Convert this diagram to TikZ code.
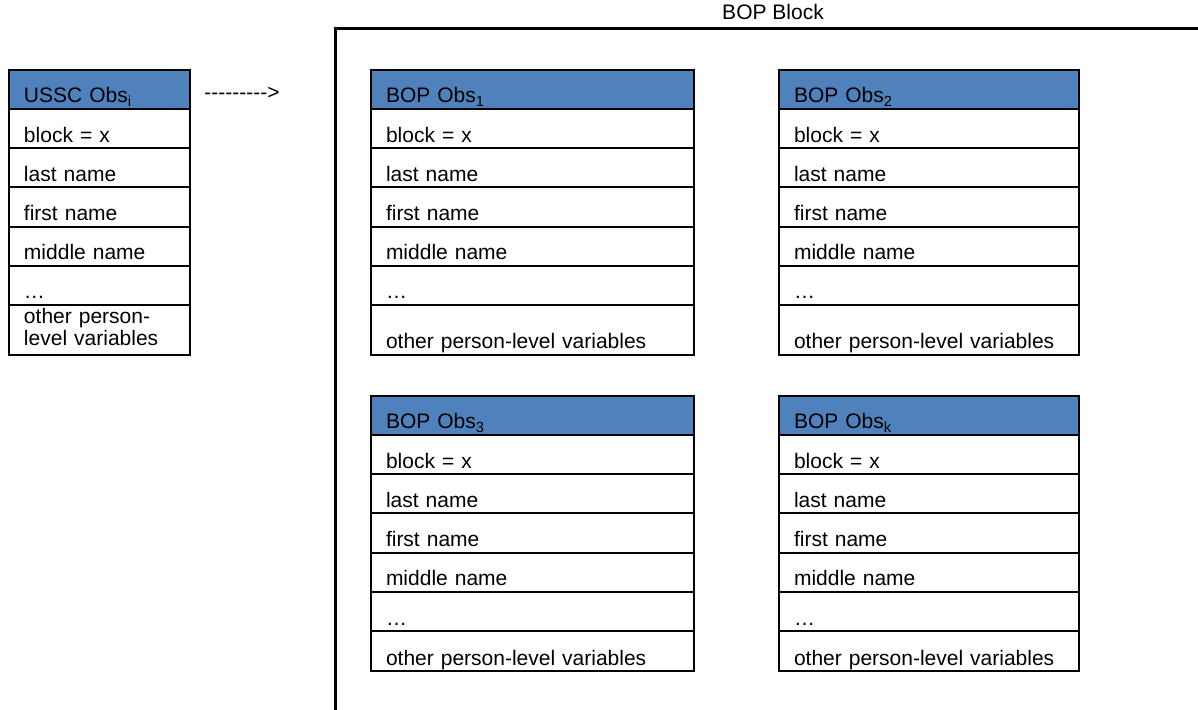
\documentclass[tikz,border=0pt]{standalone}
\usepackage{fontspec}
\setmainfont{Liberation Sans}
\usetikzlibrary{positioning}
\usepackage{xcolor}
\definecolor{hdrblue}{HTML}{4F81BD}
\newcommand{\hy}{-\kern0pt}

\begin{document}
\begin{tikzpicture}[
  x=0.5pt, y=-0.5pt, font=\fontsize{10.5}{11}\selectfont,
  cell/.style={draw, line width=1pt, outer sep=0pt, inner xsep=7.5pt,
               inner ysep=0pt, align=left, text depth=3pt},
  hdr/.style={cell, fill=hdrblue, anchor=north west, text height=16.5pt},
  row/.style={cell, fill=white, text height=16.6pt},
  bracket/.style={line width=1.5pt},
]
\useasboundingbox (0,0) rectangle (1198,710);

% block frame
\draw[bracket] (1198,29) -- (335,29) -- (335,710);
\node[anchor=base] (blocklbl) at (773,20) {BOP Block};
\node[anchor=base west, inner sep=0pt] (link) at (204,100)
  {\hy\hy\hy\hy\hy\hy\hy\hy\hy>};

% headers
\node[hdr, text width=75.5pt]  (ussc) at (9,70)    {USSC Obs\textsubscript{i}};
\node[hdr, text width=146.5pt] (bop1) at (371,70)  {BOP Obs\textsubscript{1}};
\node[hdr, text width=135pt]   (bop2) at (779,70)  {BOP Obs\textsubscript{2}};
\node[hdr, text width=146.5pt] (bop3) at (371,396) {BOP Obs\textsubscript{3}};
\node[hdr, text width=135pt]   (bop4) at (779,396) {BOP Obs\textsubscript{k}};

% variable rows
\foreach \t/\w in {ussc/75.5pt, bop1/146.5pt, bop2/135pt, bop3/146.5pt, bop4/135pt} {
  \node[row, text width=\w, below=0pt of \t]   (\t-1) {block = x};
  \node[row, text width=\w, below=0pt of \t-1] (\t-2) {last name};
  \node[row, text width=\w, below=0pt of \t-2] (\t-3) {first name};
  \node[row, text width=\w, below=0pt of \t-3] (\t-4) {middle name};
  \node[row, text width=\w, below=0pt of \t-4] (\t-5) {…};
}

\node[row, text width=75.5pt, below=0pt of ussc-5, text height=9.5pt,
      text depth=15.5pt] (ussc-6) {other person-\\level variables};
\foreach \t/\w/\h in {bop1/146.5pt/22pt, bop2/135pt/22pt,
                      bop3/146.5pt/17pt, bop4/135pt/17pt}
  \node[row, text width=\w, below=0pt of \t-5, text height=\h]
    (\t-6) {other person-level variables};

\end{tikzpicture}
\end{document}
